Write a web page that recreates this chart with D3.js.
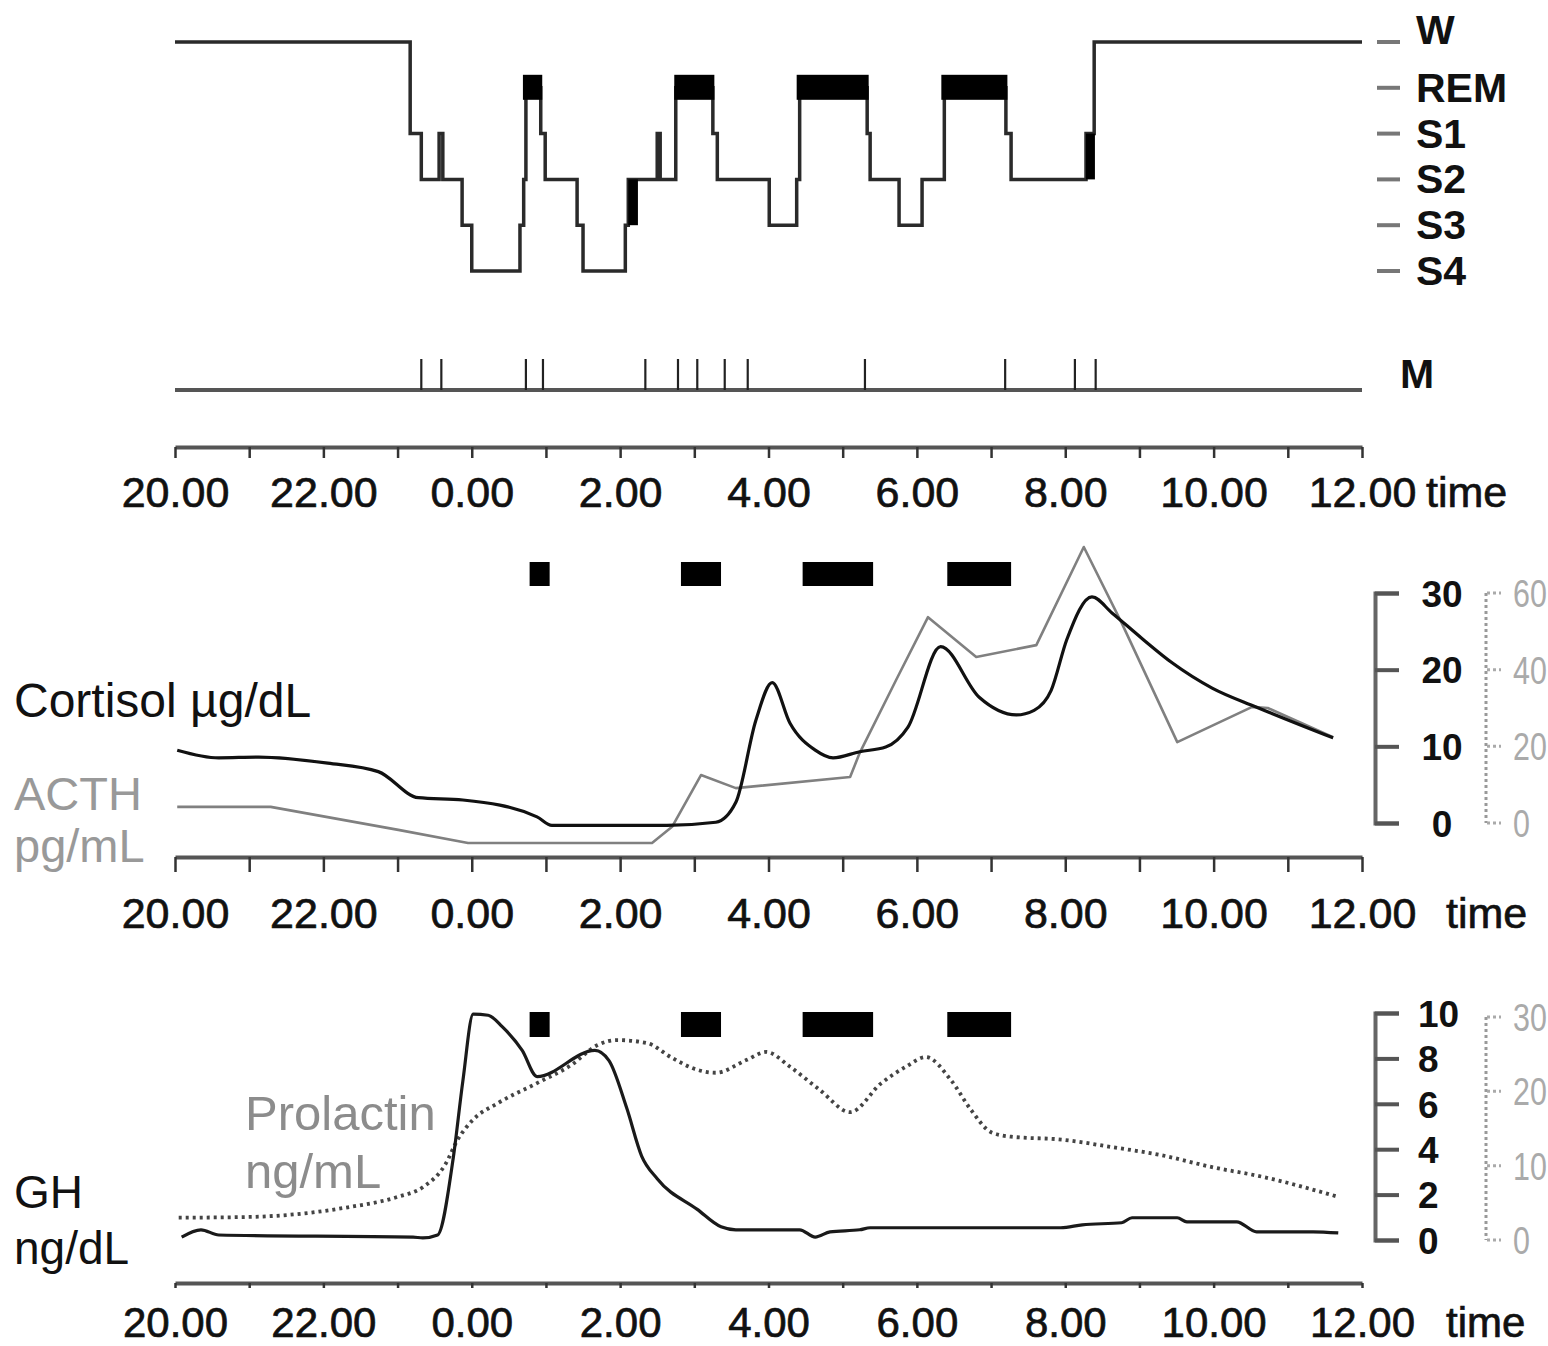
<!DOCTYPE html>
<html>
<head>
<meta charset="utf-8">
<script src="https://cdn.jsdelivr.net/npm/d3@7"></script>
<style>
  body { margin: 0; background: #fff; }
  svg { display: block; font-family: "Liberation Sans", Arial, sans-serif; }
</style>
</head>
<body>
<script>
// time is in hours after 20.00
const timeLabels = ['20.00', '22.00', '0.00', '2.00', '4.00', '6.00', '8.00', '10.00', '12.00'];
const stages = ['W', 'REM', 'S1', 'S2', 'S3', 'S4'];

// hypnogram, stage holds from each time until the next one
const hypnoT = [0, 3.17, 3.32, 3.56, 3.61, 3.87, 4.00, 4.65, 4.70, 4.73, 4.93, 4.99, 5.42, 5.50, 6.07, 6.11,
  6.50, 6.54, 6.75, 7.25, 7.31, 8.01, 8.38, 8.42, 9.33, 9.37, 9.76, 10.07, 10.37, 11.20, 11.27, 12.28, 12.39, 16];
const hypnoStage = ['W', 'S1', 'S2', 'S1', 'S2', 'S3', 'S4', 'S3', 'S2', 'REM', 'S1', 'S2', 'S3', 'S4', 'S3', 'S2',
  'S1', 'S2', 'REM', 'S1', 'S2', 'S3', 'S2', 'REM', 'S1', 'S2', 'S3', 'S2', 'REM', 'S1', 'S2', 'S1', 'W', 'W'];
const remStart = [4.71, 6.75, 8.40, 10.35];
const remEnd = [4.93, 7.25, 9.33, 11.20];
// short filled blocks (fast stage switching)
const fastStart = [6.11, 12.28];
const fastEnd = [6.24, 12.40];
const fastFrom = ['S3', 'S2'];
const fastTo = ['S2', 'S1'];

const movementT = [3.32, 3.59, 4.73, 4.96, 6.34, 6.78, 7.04, 7.41, 7.72, 9.30, 11.19, 12.13, 12.41];

// REM markers above the hormone panels
const remBarStart = [4.78, 6.82, 8.46, 10.41];
const remBarEnd = [5.05, 7.36, 9.41, 11.27];

const cortisolT = [0.03, 0.59, 1.13, 2.06, 2.74, 3.28, 3.88, 4.88, 5.08, 6.63, 7.29, 7.56, 7.83, 8.05, 8.29, 8.63,
  8.87, 9.23, 9.58, 9.88, 10.32, 10.84, 11.34, 11.58, 11.81, 12.02, 12.36, 12.63, 13.03, 13.44, 13.98, 14.58, 15.61];
const cortisolV = [9.5, 8.5, 8.6, 7.8, 6.7, 3.3, 3.0, 0.8, -0.3, -0.3, 0.1, 2.7, 13.4, 18.3, 13.0, 9.5,
  8.5, 9.3, 9.9, 12.5, 23.0, 16.4, 14.1, 14.7, 17.3, 23.9, 29.5, 27.4, 24.1, 20.9, 17.6, 15.1, 11.1];

const acthT = [0.03, 1.29, 3.01, 3.95, 6.43, 6.70, 7.09, 7.56, 9.10, 9.23, 9.72, 10.15, 10.80, 11.61, 12.25,
  12.76, 13.51, 14.52, 14.73, 15.61];
const acthV = [4.2, 4.2, -1.8, -5.2, -5.2, -1.0, 12.5, 9.1, 12.0, 18.3, 37.3, 53.7, 43.3, 46.4, 72.0,
  52.2, 21.1, 30.3, 30.0, 22.4];

const ghT = [0.09, 0.35, 0.59, 3.21, 3.34, 3.54, 3.75, 3.88, 4.02, 4.22, 4.41, 4.68, 4.88, 5.66, 5.85, 6.09,
  6.29, 6.50, 7.04, 7.36, 7.56, 8.42, 8.63, 8.83, 9.23, 9.37, 11.94, 12.23, 12.76, 12.90, 13.51, 13.64,
  14.31, 14.58, 15.34, 15.68];
const ghV = [0.13, 0.45, 0.22, 0.13, 0.09, 0.22, 3.6, 7.0, 9.95, 9.9, 9.4, 8.35, 7.2, 8.35, 7.9, 5.8,
  3.7, 2.7, 1.35, 0.58, 0.45, 0.45, 0.13, 0.36, 0.45, 0.54, 0.54, 0.67, 0.76, 0.98, 0.98, 0.8,
  0.8, 0.36, 0.36, 0.31];

const prlT = [0.05, 1.0, 2.33, 3.0, 3.34, 3.64, 3.81, 4.02, 4.35, 4.88, 5.35, 5.69, 5.96, 6.36, 6.70, 7.04,
  7.29, 7.70, 7.97, 8.29, 8.69, 9.10, 9.52, 9.85, 10.12, 10.46, 10.73, 11.0, 11.27, 11.96, 12.63, 13.30,
  13.98, 14.66, 15.68];
const prlV = [3.0, 3.1, 4.4, 5.8, 7.1, 10.1, 13.5, 16.2, 18.4, 21.1, 23.6, 26.2, 26.9, 26.5, 24.5, 22.9,
  22.5, 24.2, 25.3, 23.3, 20.2, 17.2, 21.1, 23.3, 24.6, 21.5, 17.5, 14.5, 13.9, 13.5, 12.5, 11.4,
  9.8, 8.5, 5.8];

const cortisolTicks = [0, 10, 20, 30];
const acthTicks = [0, 20, 40, 60];
const ghTicks = [0, 2, 4, 6, 8, 10];
const prlTicks = [0, 10, 20, 30];

const width = 1548;
const height = 1346;
const svg = d3.select('body').append('svg').attr('width', width).attr('height', height);

const x = d3.scaleLinear().domain([0, 16]).range([175, 1362]);
const yStage = d3.scalePoint().domain(stages).range([42, 271]);
const yCort = d3.scaleLinear().domain([0, 30]).range([823, 593]);
const yActh = d3.scaleLinear().domain([0, 60]).range([823, 593]);
const yGh = d3.scaleLinear().domain([0, 10]).range([1240, 1013]);
const yPrl = d3.scaleLinear().domain([0, 30]).range([1240, 1017]);

const zip = (a, b) => a.map((d, i) => [d, b[i]]);

// ---- hypnogram ----
svg.append('path')
  .datum(zip(hypnoT, hypnoStage))
  .attr('fill', 'none')
  .attr('stroke', '#2a2a2a')
  .attr('stroke-width', 3.5)
  .attr('d', d3.line().x(d => x(d[0])).y(d => yStage(d[1])).curve(d3.curveStepAfter));

svg.append('g').selectAll('rect')
  .data(d3.range(remStart.length))
  .join('rect')
  .attr('x', i => x(remStart[i]) - 1.5)
  .attr('width', i => x(remEnd[i]) - x(remStart[i]) + 3)
  .attr('y', yStage('REM') - 13)
  .attr('height', 25)
  .attr('fill', '#000');

svg.append('g').selectAll('rect')
  .data(d3.range(fastStart.length))
  .join('rect')
  .attr('x', i => x(fastStart[i]))
  .attr('width', i => x(fastEnd[i]) - x(fastStart[i]))
  .attr('y', i => yStage(fastTo[i]))
  .attr('height', i => yStage(fastFrom[i]) - yStage(fastTo[i]))
  .attr('fill', '#000');

const stageAxis = svg.append('g');
stageAxis.selectAll('line')
  .data(stages)
  .join('line')
  .attr('x1', 1377).attr('x2', 1400)
  .attr('y1', d => yStage(d)).attr('y2', d => yStage(d))
  .attr('stroke', '#777').attr('stroke-width', 4);
stageAxis.selectAll('text')
  .data(stages)
  .join('text')
  .attr('x', 1416)
  .attr('y', d => yStage(d) + (d === 'W' ? 2 : 14))
  .attr('font-size', 41)
  .attr('font-weight', 'bold')
  .attr('fill', '#111')
  .text(d => d);

// ---- movements ----
svg.append('line')
  .attr('x1', x(0)).attr('x2', x(16))
  .attr('y1', 390).attr('y2', 390)
  .attr('stroke', '#555').attr('stroke-width', 4);
svg.append('g').selectAll('line')
  .data(movementT)
  .join('line')
  .attr('x1', d => x(d)).attr('x2', d => x(d))
  .attr('y1', 359).attr('y2', 390)
  .attr('stroke', '#222').attr('stroke-width', 2.2);
svg.append('text')
  .attr('x', 1400).attr('y', 388)
  .attr('font-size', 41).attr('font-weight', 'bold').attr('fill', '#111')
  .text('M');

// ---- time axes ----
const timeAxis = (y, tickLen, labelOff, timeX, size) => {
  const g = svg.append('g')
    .attr('transform', `translate(0,${y})`)
    .call(d3.axisBottom(x)
      .tickValues(d3.range(0, 17))
      .tickSizeInner(tickLen)
      .tickSizeOuter(0)
      .tickFormat(d => d % 2 === 0 ? timeLabels[d / 2] : ''))
    .attr('font-size', size)
    .attr('font-family', '"Liberation Sans", Arial, sans-serif');
  g.select('.domain').attr('stroke', '#555').attr('stroke-width', 4);
  g.selectAll('.tick line').attr('stroke', '#333').attr('stroke-width', 2.5);
  g.selectAll('.tick text')
    .attr('y', labelOff).attr('dy', 0)
    .attr('fill', '#111').attr('stroke', '#111').attr('stroke-width', 0.7);
  g.append('text')
    .attr('x', timeX).attr('y', labelOff)
    .attr('fill', '#111').attr('stroke', '#111').attr('stroke-width', 0.7)
    .attr('text-anchor', 'start')
    .text('time');
};
timeAxis(447, 11, 60, 1426, 43);
timeAxis(857, 15, 71, 1446, 43);
timeAxis(1283, 5, 54, 1446, 42);

// ---- REM markers ----
const remBars = (y0, h) => {
  svg.append('g').selectAll('rect')
    .data(d3.range(remBarStart.length))
    .join('rect')
    .attr('x', i => x(remBarStart[i]))
    .attr('width', i => x(remBarEnd[i]) - x(remBarStart[i]))
    .attr('y', y0).attr('height', h)
    .attr('fill', '#000');
};
remBars(562, 24);
remBars(1012, 25);

// ---- right axes ----
const blackAxis = (y, ticks, anchor, labelX) => {
  const g = svg.append('g')
    .attr('transform', 'translate(1375,0)')
    .call(d3.axisRight(y).tickValues(ticks).tickSizeInner(24).tickSizeOuter(24));
  g.select('.domain').attr('stroke', '#666').attr('stroke-width', 4);
  g.selectAll('.tick line').attr('stroke', '#555').attr('stroke-width', 4);
  g.selectAll('.tick text')
    .attr('x', labelX - 1375)
    .attr('dy', '0.36em')
    .attr('text-anchor', anchor)
    .attr('font-size', 37)
    .attr('font-weight', 'bold')
    .attr('font-family', '"Liberation Sans", Arial, sans-serif')
    .attr('fill', '#111');
};
blackAxis(yCort, cortisolTicks, 'middle', 1442);
blackAxis(yGh, ghTicks, 'start', 1418);

const grayAxis = (y, ticks) => {
  const g = svg.append('g');
  g.append('line')
    .attr('x1', 1486).attr('x2', 1486)
    .attr('y1', y.range()[1]).attr('y2', y.range()[0])
    .attr('stroke', '#999').attr('stroke-width', 3)
    .attr('stroke-dasharray', '3,3');
  g.selectAll('line.t')
    .data(ticks)
    .join('line')
    .attr('class', 't')
    .attr('x1', 1487).attr('x2', 1501)
    .attr('y1', d => y(d)).attr('y2', d => y(d))
    .attr('stroke', '#aaa').attr('stroke-width', 3)
    .attr('stroke-dasharray', '3,3');
  g.selectAll('text')
    .data(ticks)
    .join('text')
    .attr('transform', d => `translate(1513,${y(d) + 14}) scale(0.78,1)`)
    .attr('font-size', 39)
    .attr('fill', '#aaa')
    .text(d => d);
};
grayAxis(yActh, acthTicks);
grayAxis(yPrl, prlTicks);

// ---- hormone curves ----
svg.append('path')
  .datum(zip(acthT, acthV))
  .attr('fill', 'none').attr('stroke', '#808080').attr('stroke-width', 2.6)
  .attr('stroke-linejoin', 'round')
  .attr('d', d3.line().x(d => x(d[0])).y(d => yActh(d[1])));

svg.append('path')
  .datum(zip(cortisolT, cortisolV))
  .attr('fill', 'none').attr('stroke', '#111').attr('stroke-width', 3.2)
  .attr('stroke-linejoin', 'round')
  .attr('d', d3.line().x(d => x(d[0])).y(d => yCort(d[1])).curve(d3.curveMonotoneX));

svg.append('path')
  .datum(zip(prlT, prlV))
  .attr('fill', 'none').attr('stroke', '#444').attr('stroke-width', 3.8)
  .attr('stroke-dasharray', '3,4')
  .attr('d', d3.line().x(d => x(d[0])).y(d => yPrl(d[1])).curve(d3.curveMonotoneX));

svg.append('path')
  .datum(zip(ghT, ghV))
  .attr('fill', 'none').attr('stroke', '#1a1a1a').attr('stroke-width', 3.2)
  .attr('stroke-linejoin', 'round')
  .attr('d', d3.line().x(d => x(d[0])).y(d => yGh(d[1])).curve(d3.curveMonotoneX));

// ---- side labels ----
const label = (txt, lx, ly, color, size) => {
  svg.append('text')
    .attr('x', lx).attr('y', ly)
    .attr('font-size', size)
    .attr('fill', color)
    .text(txt);
};
label('Cortisol \u00b5g/dL', 14, 717, '#111', 48);
label('ACTH', 14, 810, '#999', 47);
label('pg/mL', 14, 862, '#999', 47);
label('Prolactin', 245, 1130, '#8c8c8c', 49);
label('ng/mL', 245, 1188, '#8c8c8c', 49);
label('GH', 14, 1208, '#111', 46);
label('ng/dL', 14, 1264, '#111', 46);
</script>
</body>
</html>
